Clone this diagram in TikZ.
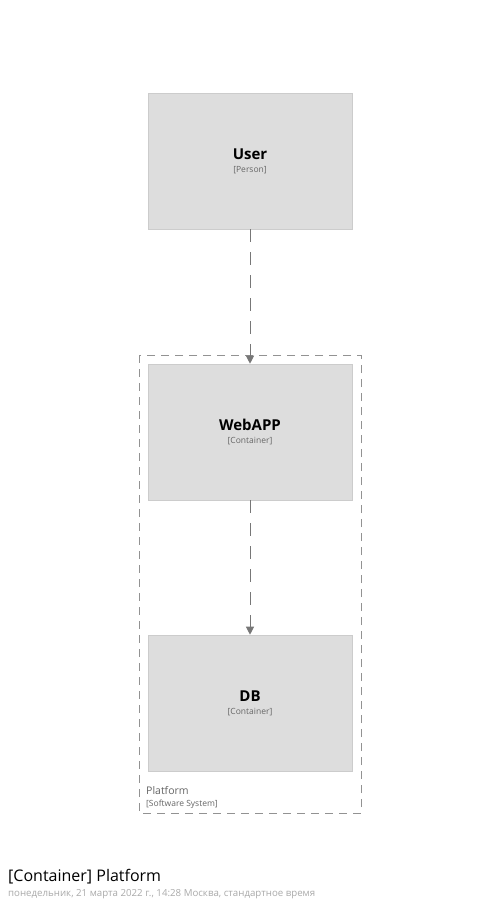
\documentclass[tikz,border=0pt]{standalone}
\usepackage{fontspec}
\setmainfont{Open Sans}
\usetikzlibrary{arrows.meta, positioning}

\definecolor{boxfill}{HTML}{DDDDDD}
\definecolor{boxline}{HTML}{CCCCCC}
\definecolor{linkgray}{HTML}{777777}
\definecolor{subgray}{HTML}{666666}
\definecolor{dategray}{HTML}{AAAAAA}

\tikzset{
    element/.style={draw=boxline, fill=boxfill, line width=0.6pt, minimum width=204pt, minimum height=136pt, inner sep=0pt, align=center},
    link/.style={-{Triangle[length=8pt, width=8pt]}, draw=linkgray, line width=1pt, dash pattern=on 13pt off 10pt},
    boundary/.style={draw=linkgray!80, line width=1pt, dash pattern=on 8pt off 6pt}
}

\newcommand{\elemtext}[2]{{\fontsize{15}{17}\selectfont\bfseries #1}\\[1pt]{\fontsize{8.5}{10}\selectfont\color{subgray}[#2]}}

\begin{document}
\begin{tikzpicture}[x=1pt, y=-1pt]
    \useasboundingbox (0,0) rectangle (500,911);
    \fill[white] (0,0) rectangle (500,911);

    % Boundary of the software system
    \draw[boundary] (139,355) rectangle (361,813);
    \node[anchor=north west, inner sep=0pt, align=left] (platlbl) at (146,786) {{\fontsize{10.5}{12}\selectfont\color{subgray}Platform}\\[0pt]{\fontsize{8.5}{10}\selectfont\color{subgray}[Software System]}};

    % Elements
    \node[element] (user) at (250,161) {\elemtext{User}{Person}};
    \node[element] (webapp) at (250,432) {\elemtext{WebAPP}{Container}};
    \node[element] (db) at (250,703) {\elemtext{DB}{Container}};

    % Relationships
    \draw[link] (user) -- (webapp);
    \draw[link] (webapp) -- (db);

    % Title
    \node[anchor=west, inner sep=0pt] (title) at (8,877) {\fontsize{16}{18}\selectfont [Container] Platform};
    \node[anchor=west, inner sep=0pt] (date) at (8,894) {\fontsize{9.7}{11}\selectfont\color{dategray}понедельник, 21 марта 2022 г., 14:28 Москва, стандартное время};
\end{tikzpicture}
\end{document}
